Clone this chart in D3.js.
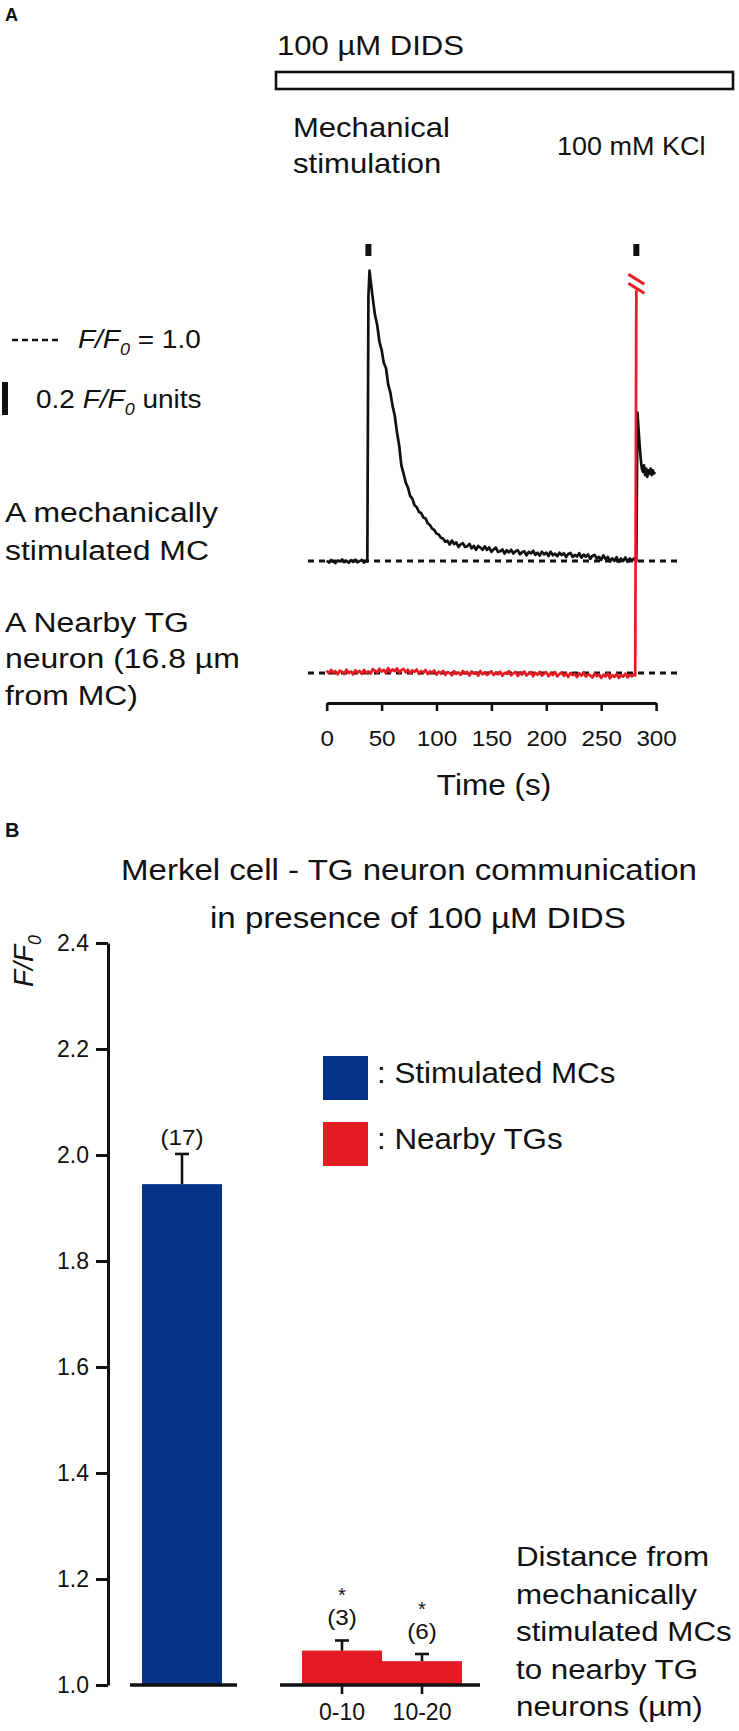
<!DOCTYPE html>
<html><head><meta charset="utf-8">
<script src="https://cdn.jsdelivr.net/npm/d3@7"></script>
<style>body{margin:0;background:#fff}svg{display:block}text{font-family:"Liberation Sans",Arial,Helvetica,sans-serif;fill:#111}</style>
</head><body>
<svg id="c" width="739" height="1731"></svg>
<script>
// ---------------- DATA ----------------
// Panel A: time axis ticks (s) and stimulus times (s)
const timeTicks = [0, 50, 100, 150, 200, 250, 300];
const stimTimes = [38, 282];
// Panel A: F/F0 trace of the mechanically stimulated Merkel cell [time s, F/F0]
const mcTrace = [
[0,1.002],[2,0.991],[4,1.006],[6,0.996],[8,0.988],[10,1.004],[12,0.997],[14,1.009],[16,0.993],[18,1.001],
[20,0.989],[22,1.005],[24,0.995],[26,1.008],[28,0.992],[30,0.999],[32,1.007],[34,0.990],[36,1.003],[37,0.998],
[38,2.60],[39,2.76],[40,2.70],[42,2.59],[44,2.49],[46,2.43],[48,2.33],[50,2.28],[52,2.20],[54,2.17],
[56,2.07],[58,2.02],[60,1.94],[62,1.88],[64,1.78],[66,1.70],[68,1.58],[70,1.53],[72,1.475],[74,1.445],
[76,1.395],[78,1.378],[80,1.338],[82,1.326],[84,1.298],[86,1.291],[88,1.264],[90,1.258],[92,1.229],[94,1.218],
[96,1.196],[98,1.188],[100,1.166],[102,1.160],[104,1.141],[106,1.136],[108,1.117],
[110,1.123],[112,1.100],[114,1.124],[116,1.102],[118,1.113],[120,1.085],[122,1.101],[124,1.108],[126,1.085],[128,1.090],
[130,1.104],[132,1.077],[134,1.092],[136,1.068],[138,1.091],[140,1.081],[142,1.068],[144,1.089],[146,1.067],[148,1.082],
[150,1.055],[152,1.070],[154,1.081],[156,1.055],[158,1.059],[160,1.070],[162,1.045],[164,1.065],[166,1.052],[168,1.068],
[170,1.045],[172,1.059],[174,1.066],[176,1.040],[178,1.053],[180,1.059],[182,1.034],[184,1.055],[186,1.046],[188,1.062],
[190,1.038],[192,1.050],[194,1.033],[196,1.056],[198,1.040],[200,1.051],[202,1.030],[204,1.057],[206,1.035],[208,1.044],
[210,1.029],[212,1.051],[214,1.036],[216,1.047],[218,1.024],[220,1.043],[222,1.049],[224,1.025],[226,1.037],[228,1.027],
[230,1.047],[232,1.020],[234,1.039],[236,1.026],[238,1.040],[240,1.013],[242,1.031],[244,1.037],[246,1.014],[248,1.025],
[250,1.007],[252,1.034],[254,1.011],[256,1.025],[258,0.997],[260,1.016],[262,1.000],[264,1.023],[266,0.995],[268,1.015],
[270,1.000],[272,1.022],[274,0.995],[276,1.015],[278,1.002],[280,1.016],[282,0.999],
[283,1.90],[284,1.80],[285,1.70],[286,1.62],[287,1.56],[288,1.54],[289,1.58],[290,1.52],[291,1.56],[292,1.51],
[293,1.55],[294,1.53],[295,1.56],[296,1.52],[297,1.55],[298,1.53],[299,1.54]
];
// Panel A: F/F0 trace of the nearby TG neuron [time s, F/F0]; last point is the off-scale KCl response (clipped)
const tgTrace = [
[0,1.015],[2,0.997],[4,1.019],[6,1.002],[8,1.011],[10,0.992],[12,1.014],[14,1.007],[16,0.994],[18,1.020],
[20,0.999],[22,1.009],[24,0.991],[26,1.016],[28,1.004],[30,1.013],[32,0.995],[34,1.019],[36,1.001],[38,1.010],
[40,0.996],[42,1.024],[44,1.013],[46,1.003],[48,1.026],[50,1.008],[52,1.019],[54,0.999],[56,1.030],[58,1.006],
[60,1.022],[62,1.011],[64,1.028],[66,1.003],[68,1.017],[70,1.025],[72,1.004],[74,1.020],[76,0.998],[78,1.016],
[80,1.007],[82,1.021],[84,0.995],[86,1.012],[88,1.003],[90,1.018],[92,0.993],[94,1.009],[96,1.001],[98,1.015],
[100,0.990],[102,1.008],[104,0.997],[106,1.013],[108,0.988],[110,1.006],[112,1.000],[114,0.986],[116,1.011],[118,0.994],
[120,1.004],[122,0.989],[124,1.013],[126,0.998],[128,1.006],[130,0.985],[132,1.009],[134,0.996],[136,1.002],[138,0.984],
[140,1.012],[142,0.993],[144,1.005],[146,0.988],[148,0.999],[150,1.010],[152,0.987],[154,1.003],[156,0.992],[158,1.008],
[160,0.983],[162,1.001],[164,0.995],[166,1.011],[168,0.986],[170,0.998],[172,1.007],[174,0.982],[176,1.004],[178,0.991],
[180,1.009],[182,0.985],[184,0.997],[186,1.006],[188,0.980],[190,1.002],[192,0.989],[194,1.007],[196,0.984],[198,0.996],
[200,1.005],[202,0.981],[204,0.999],[206,0.988],[208,1.006],[210,0.979],[212,0.995],[214,1.003],[216,0.983],[218,0.998],
[220,0.976],[222,1.001],[224,0.987],[226,0.994],[228,0.975],[230,0.999],[232,0.984],[234,1.004],[236,0.978],[238,0.992],
[240,0.986],[242,0.972],[244,0.997],[246,0.981],[248,0.993],[250,0.970],[252,0.990],[254,0.979],[256,0.998],[258,0.968],
[260,0.987],[262,0.976],[264,0.994],[266,0.971],[268,0.985],[270,0.978],[272,0.996],[274,0.973],[276,0.989],[278,0.980],
[280,0.993],[281,0.985],[282,3.32]
];
const scaleBarUnits = 0.2;
// Panel B
const barGroups = ["Stimulated MCs", "gap", "0-10", "10-20"];
const barCats = ["Stimulated MCs", "0-10", "10-20"];
const barMeans = [1.945, 1.065, 1.045];
const barErrors = [0.057, 0.019, 0.0135];
const barN = ["(17)", "(3)", "(6)"];
const barSig = ["", "*", "*"];
const barKind = ["mc", "tg", "tg"];
const yTicksB = [1.0, 1.2, 1.4, 1.6, 1.8, 2.0, 2.2, 2.4];
const legendLabels = [": Stimulated MCs", ": Nearby TGs"];
const distLines = ["Distance from", "mechanically", "stimulated MCs", "to nearby TG", "neurons (\u00b5m)"];

// ---------------- STYLE ----------------
const BLUE = "#06338a", RED = "#e41b22", INK = "#111";
const svg = d3.select("#c");

function txt(g, x, y, s, fs, o = {}) {
  const sx = o.sx || 1;
  return g.append("text")
    .attr("transform", `translate(${x},${y}) scale(${sx},1)` + (o.rot ? ` rotate(${o.rot})` : ""))
    .attr("font-size", fs)
    .attr("text-anchor", o.anchor || "start")
    .attr("font-weight", o.bold ? "bold" : null)
    .text(s);
}
function ffText(g, x, y, fs, before, after, o = {}) {
  const t = g.append("text")
    .attr("transform", `translate(${x},${y}) scale(${o.sx || 1},1)` + (o.rot ? ` rotate(${o.rot})` : ""))
    .attr("font-size", fs);
  if (before) t.append("tspan").text(before);
  t.append("tspan").attr("font-style", "italic").text("F/F");
  t.append("tspan").attr("font-style", "italic").attr("font-size", fs * 0.64).attr("dy", fs * 0.28).text("0");
  if (after) t.append("tspan").attr("dy", -fs * 0.28).text(after);
  return t;
}

// ================= PANEL A =================
const A = svg.append("g");
txt(A, 5, 21, "A", 18, {bold: true});

// drug bar
txt(A, 277, 55, "100 \u00b5M DIDS", 27, {sx: 1.15});
A.append("rect").attr("x", 276).attr("y", 72).attr("width", 457).attr("height", 17)
  .attr("fill", "#fff").attr("stroke", INK).attr("stroke-width", 2.6);
txt(A, 293, 137, "Mechanical", 27, {sx: 1.15});
txt(A, 293, 173, "stimulation", 27, {sx: 1.15});
txt(A, 557, 155, "100 mM KCl", 25, {sx: 1.08});

const xA = d3.scaleLinear().domain([0, 300]).range([326.7, 656.1]);
const yMC = d3.scaleLinear().domain([1, 2]).range([561, 396]);
const yTG = d3.scaleLinear().domain([1, 2]).range([673, 508]);

// stimulus marks
A.selectAll("rect.stim").data(stimTimes).enter().append("rect").attr("class", "stim")
  .attr("x", d => xA(d) - 3).attr("y", 244).attr("width", 6).attr("height", 12).attr("fill", INK);

// baselines F/F0 = 1
[yMC, yTG].forEach(ys => {
  A.append("line").attr("x1", 308).attr("x2", 678).attr("y1", ys(1)).attr("y2", ys(1))
    .attr("stroke", INK).attr("stroke-width", 2.8).attr("stroke-dasharray", "6,5");
});

const lineMC = d3.line().x(d => xA(d[0])).y(d => yMC(d[1]));
const lineTG = d3.line().x(d => xA(d[0])).y(d => yTG(d[1]));
A.append("path").datum(mcTrace).attr("d", lineMC).attr("fill", "none")
  .attr("stroke", INK).attr("stroke-width", 2.7).attr("stroke-linejoin", "round");
A.append("path").datum(tgTrace).attr("d", lineTG).attr("fill", "none")
  .attr("stroke", RED).attr("stroke-width", 2.7).attr("stroke-linejoin", "round");

// axis break marks on the clipped red trace
const topPt = tgTrace[tgTrace.length - 1];
const bx = xA(topPt[0]), by = yTG(topPt[1]);
[-11, -2].forEach(off => {
  A.append("line").attr("x1", bx - 8).attr("x2", bx + 8).attr("y1", by + off - 5).attr("y2", by + off + 5)
    .attr("stroke", RED).attr("stroke-width", 3);
});

// legend rows
A.append("line").attr("x1", 12).attr("x2", 59).attr("y1", 340).attr("y2", 340)
  .attr("stroke", INK).attr("stroke-width", 2.6).attr("stroke-dasharray", "6,4");
ffText(A, 78, 348, 25, null, " = 1.0", {sx: 1.12});
A.append("rect").attr("x", 2).attr("width", 6).attr("y", 382)
  .attr("height", yMC(1) - yMC(1 + scaleBarUnits)).attr("fill", INK);
ffText(A, 36, 408, 25, "0.2 ", " units", {sx: 1.12});

// trace labels
txt(A, 5, 522, "A mechanically", 28, {sx: 1.14});
txt(A, 5, 560, "stimulated MC", 28, {sx: 1.14});
txt(A, 5, 632, "A Nearby TG", 28, {sx: 1.14});
txt(A, 5, 668, "neuron (16.8 \u00b5m", 28, {sx: 1.14});
txt(A, 5, 705, "from MC)", 28, {sx: 1.14});

// time axis
const axA = A.append("g").attr("transform", "translate(0,703)")
  .call(d3.axisBottom(xA).tickValues(timeTicks).tickSize(8).tickSizeOuter(0).tickFormat(d3.format("d")));
axA.select(".domain").attr("stroke", INK).attr("stroke-width", 3);
axA.selectAll(".tick line").attr("stroke", INK).attr("stroke-width", 2.6);
axA.selectAll(".tick text").attr("dy", null).attr("y", 43).attr("font-size", 22)
  .attr("font-family", "Liberation Sans, Arial, sans-serif").attr("fill", INK)
  .attr("transform", "scale(1.1,1)");
txt(A, 494, 795, "Time (s)", 30, {anchor: "middle", sx: 1.05});

// ================= PANEL B =================
const B = svg.append("g");
txt(B, 5, 837, "B", 20, {bold: true});
txt(B, 121, 880, "Merkel cell - TG neuron communication", 29, {sx: 1.14});
txt(B, 210, 928, "in presence of 100 \u00b5M DIDS", 29, {sx: 1.14});

const yB = d3.scaleLinear().domain([1.0, 2.4]).range([1685, 943]);
const xB = d3.scaleBand().domain(barGroups).range([142, 462]).padding(0);
const bw = xB.bandwidth();

// y axis
const axB = B.append("g").attr("transform", "translate(108,0)")
  .call(d3.axisLeft(yB).tickValues(yTicksB).tickSize(12).tickSizeOuter(0).tickFormat(d3.format(".1f")));
axB.select(".domain").attr("stroke", INK).attr("stroke-width", 3);
axB.selectAll(".tick line").attr("stroke", INK).attr("stroke-width", 3);
axB.selectAll(".tick text").attr("x", -19).attr("font-size", 23).attr("fill", INK)
  .attr("font-family", "Liberation Sans, Arial, sans-serif");
ffText(B, 33, 987, 28, null, null, {rot: -90});

// bars
const color = k => k === "mc" ? BLUE : RED;
barCats.forEach((c, i) => {
  const x0 = xB(c);
  B.append("rect").attr("x", x0).attr("y", yB(barMeans[i])).attr("width", bw)
    .attr("height", yB(1.0) - yB(barMeans[i])).attr("fill", color(barKind[i]));
});
// baselines below bars
B.append("line").attr("x1", xB("Stimulated MCs") - 12).attr("x2", xB("Stimulated MCs") + bw + 15)
  .attr("y1", yB(1.0)).attr("y2", yB(1.0)).attr("stroke", INK).attr("stroke-width", 3.5);
B.append("line").attr("x1", xB("0-10") - 22).attr("x2", xB("10-20") + bw + 18)
  .attr("y1", yB(1.0)).attr("y2", yB(1.0)).attr("stroke", INK).attr("stroke-width", 3.5);
// x ticks + labels for distance groups
["0-10", "10-20"].forEach(c => {
  const cx = xB(c) + bw / 2;
  B.append("line").attr("x1", cx).attr("x2", cx).attr("y1", yB(1.0)).attr("y2", yB(1.0) + 9)
    .attr("stroke", INK).attr("stroke-width", 2.6);
  txt(B, cx, 1720, c, 23, {anchor: "middle"});
});
// error bars, n labels, significance
barCats.forEach((c, i) => {
  const cx = xB(c) + bw / 2;
  const yt = yB(barMeans[i] + barErrors[i]);
  B.append("line").attr("x1", cx).attr("x2", cx).attr("y1", yB(barMeans[i])).attr("y2", yt)
    .attr("stroke", INK).attr("stroke-width", 2.6);
  B.append("line").attr("x1", cx - 7).attr("x2", cx + 7).attr("y1", yt).attr("y2", yt)
    .attr("stroke", INK).attr("stroke-width", 2.6);
  const nb = yt - (barSig[i] ? 15 : 9);
  txt(B, cx, nb, barN[i], 22, {anchor: "middle", sx: 1.1});
  if (barSig[i]) txt(B, cx, nb - 23, barSig[i], 20, {anchor: "middle"});
});

// legend
const legColors = [BLUE, RED];
legendLabels.forEach((l, i) => {
  B.append("rect").attr("x", 323).attr("y", 1056 + i * 66).attr("width", 45).attr("height", 44)
    .attr("fill", legColors[i]);
  txt(B, 377, 1083 + i * 66, l, 29, {sx: 1.08});
});

// distance text
distLines.forEach((l, i) => txt(B, 516, 1566 + i * 37.5, l, 27, {sx: 1.16}));
</script>
</body></html>
